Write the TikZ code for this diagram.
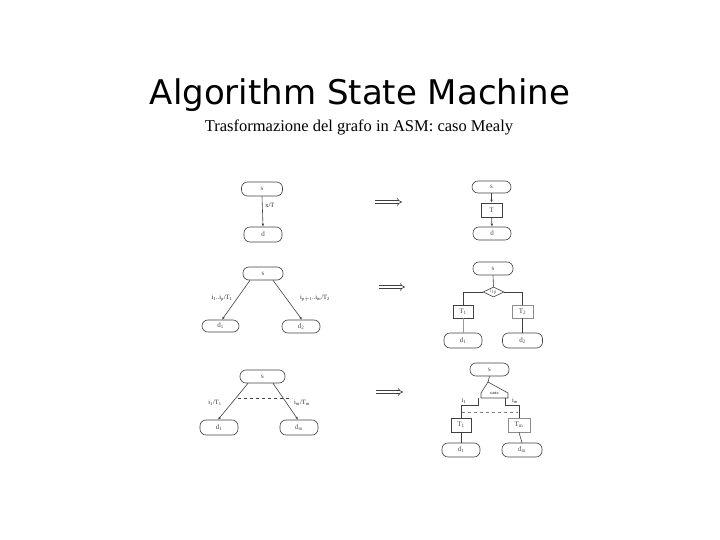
\documentclass[tikz,border=0pt]{standalone}
\usepackage{fontspec}
\usepackage{amsmath}
\setmainfont{Liberation Serif}
\newfontfamily\titlefont{DejaVu Sans}
\usetikzlibrary{arrows.meta, shapes.geometric}

\tikzset{
  statebox/.style={draw, rounded corners=6pt, minimum width=39pt, minimum height=14pt, inner sep=0pt, font=\fontsize{7}{8}\selectfont, text=black!70},
  outbox/.style={draw, minimum width=21pt, minimum height=14pt, inner sep=0pt, font=\fontsize{7}{8}\selectfont, text=black!75},
  lbl/.style={font=\fontsize{6.5}{7}\selectfont, inner sep=0pt, text=black!85},
  flow/.style={-{Latex[length=3pt,width=2.5pt]}},
  implies/.style={double, double distance=2pt, -{Implies}}
}

\begin{document}
\begin{tikzpicture}[x=1pt, y=-1pt, line width=0.6pt, draw=black!75]
    \useasboundingbox (0,0) rectangle (720,540);

    % title
    \node (title) at (360,95) {\titlefont\fontsize{34}{38}\selectfont Algorithm State Machine};
    \node (subtitle) at (359,127) {\fontsize{16.5}{18}\selectfont Trasformazione del grafo in ASM: caso Mealy};

    % first row
    \node [statebox, minimum width=41pt] (s1) at (262,189) {s};
    \node [statebox, minimum width=38pt, minimum height=15pt] (d1) at (263,234.5) {d};
    \draw[flow] (s1.south) -- (d1.north);
    \node [lbl, anchor=west] (x1) at (265,205) {x/T};

    \node [statebox, minimum height=12pt] (s1r) at (491.5,187) {s};
    \node [outbox] (t1r) at (491.5,210) {T};
    \node [statebox, minimum width=38pt, minimum height=13pt] (d1r) at (492,233.5) {d};
    \draw[flow] (s1r.south) -- (t1r.north);
    \draw[flow] (t1r.south) -- (d1r.north);

    \coordinate (a1) at (375,202);
    \coordinate (b1) at (402,202);
    \draw[implies] (a1) -- (b1);

    % second row
    \node [statebox, minimum width=40pt, minimum height=13pt] (s2) at (263,273.5) {s};
    \node [statebox, minimum width=37pt, minimum height=12pt] (d21) at (220.5,326) {d$_\mathrm{1}$};
    \node [statebox, minimum width=38pt, minimum height=13pt] (d22) at (301,326.5) {d$_\mathrm{2}$};
    \draw[flow] ([xshift=-13pt]s2.south) -- ([xshift=1.5pt]d21.north);
    \draw[flow] ([xshift=10pt]s2.south) -- ([xshift=1pt]d22.north);
    \node [lbl] (x21) at (222,298) {i$_\mathrm{1}$..i$_\mathrm{p}$/T$_\mathrm{1}$};
    \node [lbl] (x22) at (315,298) {i$_\mathrm{p+1}$..i$_\mathrm{m}$/T$_\mathrm{2}$};

    \node [statebox, minimum width=40pt, minimum height=13pt] (s2r) at (493,268.5) {s};
    \node [draw, diamond, shape aspect=2, minimum width=21pt, minimum height=10pt, inner sep=0pt, font=\fontsize{5}{6}\selectfont, text=black!60] (c2r) at (493.5,292) {i$_\mathrm{1p}$};
    \node [outbox, minimum width=20pt, minimum height=13pt] (t21r) at (463,311.5) {T$_\mathrm{1}$};
    \node [outbox, minimum height=13pt, draw=black!45] (t22r) at (522.5,311.5) {T$_\mathrm{2}$};
    \node [statebox, minimum width=38pt, minimum height=15pt] (d21r) at (463,340.5) {d$_\mathrm{1}$};
    \node [statebox, minimum width=40pt, minimum height=15pt] (d22r) at (522.5,340.5) {d$_\mathrm{2}$};
    \draw (s2r.south) -- (c2r.north);
    \draw (c2r.west) -| (t21r.north);
    \draw (c2r.east) -| (t22r.north);
    \draw[black!40] (t21r.south) -- (d21r.north);
    \draw (t22r.south) -- (d22r.north);

    \coordinate (a2) at (379,287);
    \coordinate (b2) at (405,287);
    \draw[implies] (a2) -- (b2);

    % third row
    \node [statebox, minimum width=45pt, minimum height=13pt] (s3) at (262.5,376.5) {s};
    \node [statebox, minimum width=38pt, minimum height=15pt] (d31) at (219,427.5) {d$_\mathrm{1}$};
    \node [statebox, minimum width=38pt, minimum height=15pt] (d3m) at (299,427.5) {d$_\mathrm{m}$};
    \draw[flow] ([xshift=-14.5pt]s3.south) -- ([xshift=-1pt]d31.north);
    \draw[flow] ([xshift=10.5pt]s3.south) -- ([xshift=-1pt]d3m.north);
    \coordinate (l3) at (238,398);
    \coordinate (r3) at (292,398);
    \draw[dashed] (l3) -- (r3);
    \node [lbl] (x31) at (215,403) {i$_\mathrm{1}$/T$_\mathrm{1}$};
    \node [lbl] (x3m) at (302,403) {i$_\mathrm{m}$/T$_\mathrm{m}$};

    \node [statebox, minimum width=39pt, minimum height=13pt] (s3r) at (489.5,369.5) {s};
    \node [inner sep=0pt, font=\sffamily\bfseries\fontsize{4.5}{5}\selectfont, text=black!70] (c3r) at (494.5,393.5) {casc};
    \draw (488,382) -- (481,393) -- (481,398) -- (508,398) -- (508,393) -- cycle;
    \draw (s3r.south) -- (488,382);
    \node [outbox, minimum width=20pt] (t31r) at (461,425) {T$_\mathrm{1}$};
    \node [outbox, minimum width=22pt, draw=black!45] (t3mr) at (519,425) {T$_\mathrm{m}$};
    \node [statebox, minimum width=38pt] (d31r) at (461,450) {d$_\mathrm{1}$};
    \node [statebox, minimum width=40pt] (d3mr) at (522,450) {d$_\mathrm{m}$};
    \draw (478,398) -- (478,405) -| (t31r.north);
    \draw (505,398) -- (505,405) -| (t3mr.north);
    \node [lbl] (y31) at (464,401) {i$_\mathrm{1}$};
    \node [lbl] (y3m) at (515,401) {i$_\mathrm{m}$};
    \coordinate (l3r) at (462,412);
    \coordinate (r3r) at (518,412);
    \draw[dashed, black!50] (l3r) -- (r3r);
    \draw (t31r.south) -- (d31r.north);
    \draw (t3mr.south) -- (d3mr.north);

    \coordinate (a3) at (376,392);
    \coordinate (b3) at (403,392);
    \draw[implies] (a3) -- (b3);
\end{tikzpicture}
\end{document}
